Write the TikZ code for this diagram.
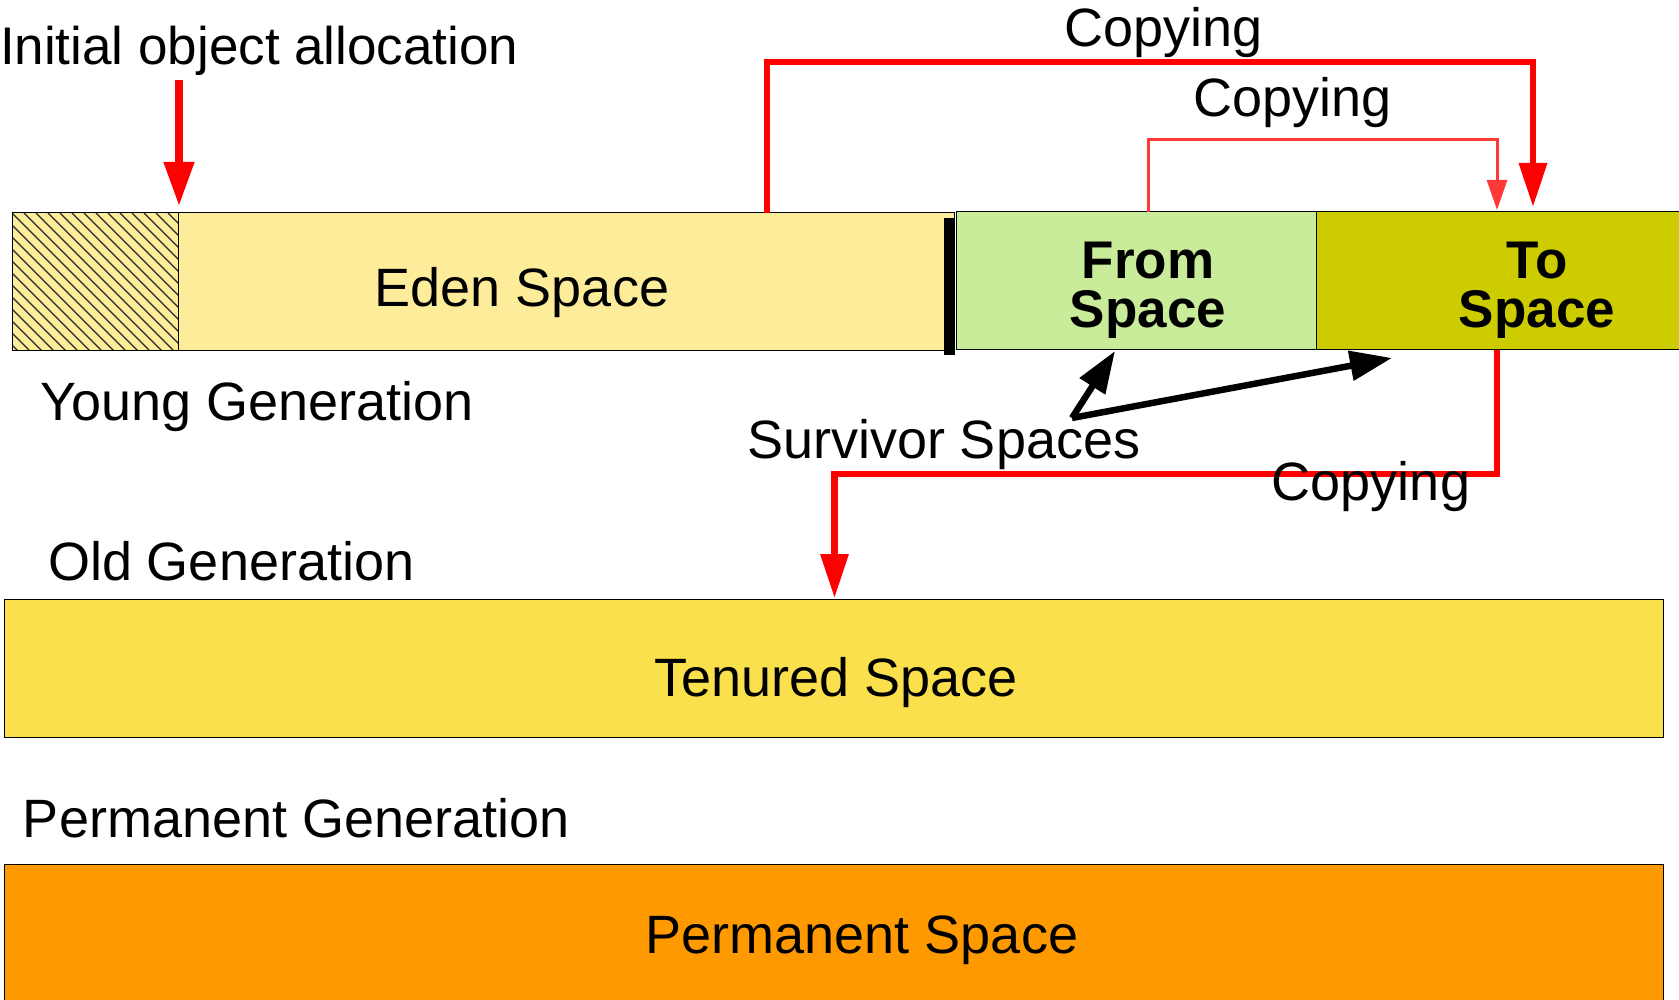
\documentclass[tikz,border=0pt]{standalone}
\usepackage{fontspec}
\setmainfont{Liberation Sans}
\usetikzlibrary{arrows.meta}

\definecolor{edenfill}{RGB}{253,236,153}
\definecolor{fromfill}{RGB}{200,236,154}
\definecolor{tofill}{RGB}{204,204,0}
\definecolor{tenfill}{RGB}{250,224,76}
\definecolor{permfill}{RGB}{255,153,0}
\definecolor{copyred}{RGB}{255,0,0}
\definecolor{lightred}{RGB}{255,56,56}

\begin{document}
\begin{tikzpicture}[x=1pt,y=-1pt,
  every node/.style={inner sep=0pt,outer sep=0pt},
  region/.style={draw=black,line width=1pt,anchor=north west,minimum height=138pt},
  txt/.style={font=\fontsize{54}{49}\selectfont,anchor=base},
  txtb/.style={font=\fontsize{53}{49}\selectfont\bfseries,anchor=base,align=center},
  bigred/.style={draw=copyred,line width=6.5pt,-{Triangle[length=44pt,width=27pt]}},
  thinred/.style={draw=lightred,line width=3pt,-{Triangle[length=30pt,width=20pt]}},
  pointer/.style={draw=black,line width=6.5pt,-{Triangle[length=42pt,width=29pt]}},
  hatchline/.style={draw=black!85,line width=1.1pt}
]
\useasboundingbox (0,0) rectangle (1679,1000);
\clip (0,0) rectangle (1679,1000);

% young generation: eden with its allocation area
\node[region,fill=edenfill,minimum width=942pt] (eden) at (12,213) {};
\begin{scope}
  \clip (12,213) rectangle (178,351);
  \foreach \x in {-132,-120,...,180}
    \draw[hatchline] (\x,213) -- ++(138,138);
\end{scope}
\node[region,minimum width=166pt] (hatch) at (12,213) {};

% survivor spaces
\node[region,fill=fromfill,minimum width=360pt] (frombox) at (956,212) {};
\node[region,fill=tofill,minimum width=380pt] (tobox) at (1316,212) {};
\node[fill=black,minimum width=11pt,minimum height=137pt,anchor=north west] (bar) at (944,218) {};

% old and permanent generations
\node[region,fill=tenfill,minimum width=1658.5pt] (tenured) at (4.5,599) {};
\node[region,fill=permfill,minimum width=1659pt,minimum height=150pt] (perm) at (4,864) {};

% labels (two-line labels sit on the baseline of their last line)
\node[txt,anchor=base west,font=\fontsize{53}{49}\selectfont] (alloc) at (0,65) {Initial object allocation};
\node[txt] (edenlbl) at (522,307) {Eden Space};
\node[txtb] (fromlbl) at (1148,327) {From\\Space};
\node[txtb] (tolbl) at (1537,327) {To\\Space};
\node[txt,anchor=base west] (young) at (40,420) {Young Generation};
\node[txt,anchor=base west] (surv) at (747,458) {Survivor Spaces};
\node[txt,anchor=base west] (old) at (48,580) {Old Generation};
\node[txt] (tenlbl) at (836,696) {Tenured Space};
\node[txt,anchor=base west] (permgen) at (23,837) {Permanent Generation};
\node[txt] (permlbl) at (862,953) {Permanent Space};
\node[txt] (copyA) at (1164,47) {Copying};
\node[txt] (copyB) at (1293,117) {Copying};

% allocation and copying paths
\coordinate (allocfrom) at (179,80);
\draw[bigred,line width=7.5pt,-{Triangle[length=44pt,width=29pt]}]
  (allocfrom) -- ([xshift=1pt,yshift=7pt]hatch.north east);
\draw[bigred] ([xshift=755pt]eden.north west) -- ++(0,-151)
  -| ([xshift=217pt,yshift=5pt]tobox.north west);
\draw[thinred] ([xshift=12pt]frombox.north) -- ++(0,-72)
  -| ([xshift=181pt,yshift=2pt]tobox.north west);
\draw[bigred] ([xshift=181pt]tobox.south west) -- ++(0,124)
  -| ([xshift=830pt,yshift=1pt]tenured.north west);
\node[txt] (copyC) at (1371,500) {Copying};

% survivor space pointers
\coordinate (survfrom) at (1072,418);
\draw[pointer] (survfrom) -- ([xshift=159pt,yshift=-1pt]frombox.south west);
\draw[pointer] (survfrom) -- ([xshift=76pt,yshift=-8pt]tobox.south west);
\end{tikzpicture}
\end{document}
